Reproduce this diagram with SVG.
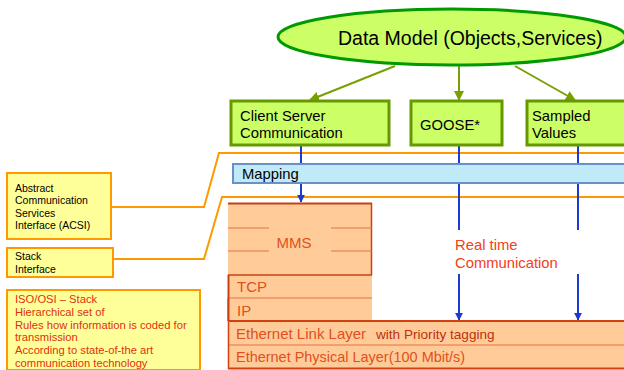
<svg xmlns="http://www.w3.org/2000/svg" width="624" height="370" viewBox="0 0 624 370">
<defs>
<style>
text{font-family:"Liberation Sans",Arial,sans-serif}
.gbox{fill:#ccff66;stroke:#669900;stroke-width:3}
.gtxt{font-size:14.8px;fill:#000}
.note{fill:#ffff99;stroke:#ff9900;stroke-width:2}
.ntxt{font-size:10.5px;fill:#000}
.rtxt{font-size:11.2px;fill:#e03010}
.layer{fill:#ffcc99}
.ltxt{font-size:15px;fill:#e05020}
.green{stroke:#77a000;stroke-width:2;fill:none}
.blue{stroke:#1a3ad0;stroke-width:2;fill:none}
.orange{stroke:#ff9900;stroke-width:2;fill:none}
</style>
<marker id="ga" viewBox="0 0 10 10" refX="9" refY="5" markerWidth="5" markerHeight="5" orient="auto"><path d="M0,0L10,5L0,10z" fill="#77a000"/></marker>
<marker id="ba" viewBox="0 0 10 10" refX="9" refY="5" markerWidth="4" markerHeight="4" orient="auto"><path d="M0,0L10,5L0,10z" fill="#1a3ad0"/></marker>
</defs>
<rect width="624" height="370" fill="#fff"/>
<g id="connectors">
<path class="green" d="M395,66L310,100" marker-end="url(#ga)"/>
<path class="green" d="M459,66L459,100" marker-end="url(#ga)"/>
<path class="green" d="M515,66L575,100" marker-end="url(#ga)"/>
<path class="orange" d="M111,207L204,207L219,153L624,153"/>
<path class="orange" d="M113,259L204,259L222,197L624,197"/>
<path class="blue" d="M301,146L301,202" marker-end="url(#ba)"/>
<path class="blue" d="M459,146L459,230"/>
<path class="blue" d="M459,274L459,320" marker-end="url(#ba)"/>
<path class="blue" d="M578,146L578,230"/>
<path class="blue" d="M578,274L578,320" marker-end="url(#ba)"/>
</g>
<g id="datamodel">
<ellipse cx="452" cy="37" rx="174" ry="28" fill="#ccff66" stroke="#009900" stroke-width="3"/>
<text x="338" y="45" font-size="19.5" fill="#000">Data Model (Objects,Services)</text>
</g>
<g id="clientserver">
<rect class="gbox" x="231" y="101" width="158" height="44"/>
<text class="gtxt" x="240" y="121">Client Server</text>
<text class="gtxt" x="240" y="138">Communication</text>
</g>
<g id="goose">
<rect class="gbox" x="411" y="101" width="91" height="44"/>
<text class="gtxt" x="420" y="130">GOOSE*</text>
</g>
<g id="sampled">
<rect class="gbox" x="527" y="101" width="100" height="44"/>
<text class="gtxt" x="532" y="121">Sampled</text>
<text class="gtxt" x="532" y="138">Values</text>
</g>
<g id="mapping">
<rect x="233" y="164" width="394" height="19" fill="#c0eaf8" stroke="#6a90c8" stroke-width="2"/>
<text x="242" y="179" font-size="14.8" fill="#000">Mapping</text>
</g>
<g id="mms">
<rect class="layer" x="228" y="203" width="144" height="72"/>
<line x1="228" y1="203.5" x2="372" y2="203.5" stroke="#c84010" stroke-width="2"/>
<line x1="371.5" y1="203" x2="371.5" y2="275" stroke="#c84010" stroke-width="1.5"/>
<line x1="228" y1="228" x2="269" y2="228" stroke="#e87040"/>
<line x1="331" y1="228" x2="372" y2="228" stroke="#e87040"/>
<line x1="228" y1="251" x2="269" y2="251" stroke="#e87040"/>
<line x1="331" y1="251" x2="372" y2="251" stroke="#e87040"/>
<text class="ltxt" x="294" y="248" text-anchor="middle">MMS</text>
</g>
<g id="tcp">
<rect class="layer" x="228" y="275" width="144" height="23"/>
<line x1="228" y1="275" x2="372" y2="275" stroke="#c84010" stroke-width="1.5"/>
<line x1="228.5" y1="275" x2="228.5" y2="321" stroke="#c84010" stroke-width="2"/>
<text class="ltxt" x="237" y="292">TCP</text>
</g>
<g id="ip">
<rect class="layer" x="228" y="298" width="144" height="23"/>
<line x1="229" y1="298" x2="372" y2="298" stroke="#e87040"/>
<line x1="228.5" y1="298" x2="228.5" y2="321" stroke="#c84010" stroke-width="2"/>
<text class="ltxt" x="237" y="316">IP</text>
</g>
<g id="ethlink">
<rect class="layer" x="228" y="321" width="396" height="24"/>
<line x1="228" y1="321" x2="624" y2="321" stroke="#d04010" stroke-width="2"/>
<text class="ltxt" x="236" y="339">Ethernet Link Layer</text>
<text x="376" y="339" font-size="13.6" fill="#c03010">with Priority tagging</text>
</g>
<g id="ethphys">
<rect class="layer" x="228" y="345" width="396" height="23"/>
<line x1="228" y1="345" x2="624" y2="345" stroke="#e87040"/>
<line x1="228" y1="368.5" x2="624" y2="368.5" stroke="#d04010" stroke-width="2"/>
<line x1="228.5" y1="321" x2="228.5" y2="369" stroke="#d04010" stroke-width="1.5"/>
<text class="ltxt" x="236" y="362" textLength="229" lengthAdjust="spacingAndGlyphs">Ethernet Physical Layer(100 Mbit/s)</text>
</g>
<g id="realtime">
<text x="455" y="250" font-size="14.8" fill="#f04020">Real time</text>
<text x="455" y="268" font-size="14.8" fill="#f04020">Communication</text>
</g>
<g id="acsi">
<rect class="note" x="7" y="173" width="104" height="66"/>
<text class="ntxt" x="15" y="192">Abstract</text>
<text class="ntxt" x="15" y="204">Communication</text>
<text class="ntxt" x="15" y="217">Services</text>
<text class="ntxt" x="15" y="229">Interface (ACSI)</text>
</g>
<g id="stackif">
<rect class="note" x="7" y="248" width="106" height="29"/>
<text class="ntxt" x="15" y="260">Stack</text>
<text class="ntxt" x="15" y="273">Interface</text>
</g>
<g id="isoosi">
<rect class="note" x="7" y="290" width="193" height="80"/>
<text class="rtxt" x="15" y="303">ISO/OSI – Stack</text>
<text class="rtxt" x="15" y="316">Hierarchical set of</text>
<text class="rtxt" x="15" y="329">Rules how information is coded for</text>
<text class="rtxt" x="15" y="341">transmission</text>
<text class="rtxt" x="15" y="354">According to state-of-the art</text>
<text class="rtxt" x="15" y="367">communication technology</text>
</g>
</svg>
